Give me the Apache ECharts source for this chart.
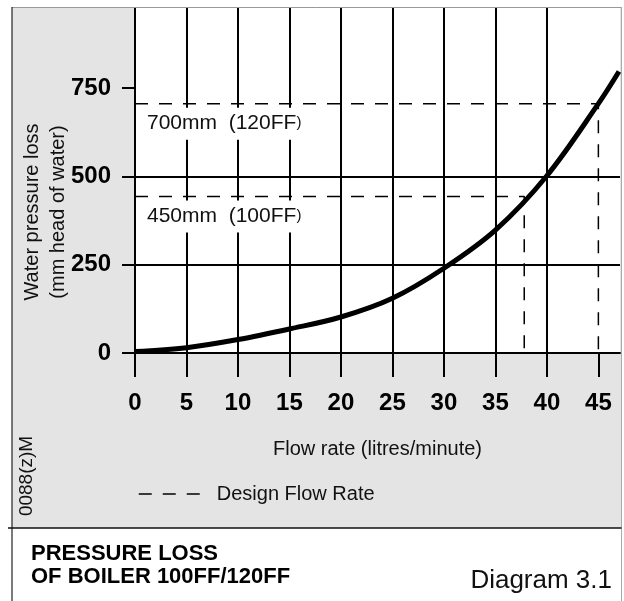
<!DOCTYPE html>
<html><head><meta charset="utf-8">
<script src="https://cdn.jsdelivr.net/npm/echarts@6/dist/echarts.min.js"></script>
<style>html,body{margin:0;padding:0;background:#fff}#c{width:624px;height:601px}</style>
</head><body><div id="c"></div>
<script>
// ---- data ----
const flowRate = [0, 5, 10, 15, 20, 25, 30, 35, 40, 45, 47];
const pressureLoss = [4, 15, 38, 68, 102, 155, 240, 348, 502, 706, 797];
const designFlow = [37.8, 45];
const designLoss = [443, 706];
const designText = ['450mm  (100FF', '700mm  (120FF'];
const xTicks = [0, 5, 10, 15, 20, 25, 30, 35, 40, 45];
const yTicks = [0, 250, 500, 750];
const xMax = 47.1;
const yMax = 977;

const NUM = "'Liberation Sans',Arial,sans-serif";
const TXT = "'Liberation Sans',Arial,Helvetica,sans-serif";

const chart = echarts.init(document.getElementById('c'), null, {renderer: 'canvas'});

const designSeries = designFlow.map((f, i) => ({
  type: 'line', name: 'Design Flow Rate', symbol: 'none', silent: true, z: 2,
  itemStyle: {color: '#000'},
  lineStyle: {color: '#000', width: 1.5, type: [13, 11]},
  data: [[0, designLoss[i]], [f, designLoss[i]], [f, 0]]
}));

const option = {
  animation: false,
  backgroundColor: '#fff',
  grid: {left: 135, right: 4, top: 8, bottom: 248, show: true, backgroundColor: '#fff', borderWidth: 0},
  xAxis: {
    type: 'value', min: 0, max: xMax, interval: 5,
    axisLine: {show: true, onZero: false, lineStyle: {color: '#000', width: 2}},
    axisTick: {show: true, length: 24, customValues: xTicks, lineStyle: {color: '#000', width: 2}},
    axisLabel: {customValues: xTicks, margin: 38, fontFamily: NUM, fontWeight: 'bold', fontSize: 24, color: '#000'},
    splitLine: {show: true, showMaxLine: false, lineStyle: {color: '#000', width: 2}},
    name: 'Flow rate (litres/minute)', nameLocation: 'middle', nameGap: 86,
    nameTextStyle: {fontFamily: TXT, fontSize: 20, color: '#111'}
  },
  yAxis: {
    type: 'value', min: 0, max: yMax, interval: 250,
    axisLine: {show: true, onZero: false, lineStyle: {color: '#000', width: 2}},
    axisTick: {show: true, length: 13, customValues: yTicks, lineStyle: {color: '#000', width: 2}},
    axisLabel: {customValues: yTicks, margin: 24, fontFamily: NUM, fontWeight: 'bold', fontSize: 24, color: '#000'},
    splitLine: {show: true, showMaxLine: false, lineStyle: {color: '#000', width: 2}}
  },
  legend: {
    show: true, data: ['Design Flow Rate'], selectedMode: false,
    left: 133, top: 479, orient: 'horizontal',
    itemWidth: 66, itemHeight: 14, itemGap: 10,
    itemStyle: {opacity: 0},
    lineStyle: {color: '#000', width: 1.5, type: [13, 11]},
    textStyle: {fontFamily: TXT, fontSize: 20, color: '#111', padding: [0, 0, 0, 7]}
  },
  series: [
    {
      type: 'line', name: 'Pressure loss', smooth: 0.35, symbol: 'none', silent: true, z: 3,
      itemStyle: {color: '#000'},
      lineStyle: {color: '#000', width: 5},
      data: flowRate.map((x, i) => [x, pressureLoss[i]])
    }
  ].concat(designSeries)
};
chart.setOption(option);

// annotation labels positioned from the data scale
const labelGraphics = designLoss.map((v, i) => {
  const p = chart.convertToPixel({gridIndex: 0}, [0, v]);
  return {
    type: 'text', x: p[0] + 9, y: p[1] + 20, z: 5,
    style: {
      text: designText[i] + '{s|)}', font: '21px ' + TXT, fill: '#111',
      verticalAlign: 'middle', align: 'left', backgroundColor: '#fff', padding: [5, 3, 6, 3],
      rich: {s: {fontSize: 15, fontFamily: TXT, fill: '#111'}}
    }
  };
});

chart.setOption({
  graphic: [
    {type: 'rect', z: -10, silent: true, shape: {x: 12, y: 7.5, width: 609, height: 520.5}, style: {fill: '#e4e4e4'}},
    {type: 'line', z: 6, silent: true, shape: {x1: 12, y1: 7.5, x2: 621.5, y2: 7.5}, style: {stroke: '#999', lineWidth: 1}},
    {type: 'line', z: 6, silent: true, shape: {x1: 12, y1: 7, x2: 12, y2: 601}, style: {stroke: '#222', lineWidth: 1.2}},
    {type: 'line', z: 6, silent: true, shape: {x1: 621.5, y1: 7, x2: 621.5, y2: 601}, style: {stroke: '#aaa', lineWidth: 1}},
    {type: 'line', z: 6, silent: true, shape: {x1: 8, y1: 528, x2: 621.5, y2: 528}, style: {stroke: '#111', lineWidth: 1.5}},
    {type: 'text', z: 6, silent: true, x: 45, y: 212, rotation: Math.PI / 2,
      style: {text: 'Water pressure loss\n(mm head of water)', font: '20px ' + TXT, fill: '#111', align: 'center', verticalAlign: 'middle', lineHeight: 26}},
    {type: 'text', z: 6, silent: true, x: 27, y: 476, rotation: Math.PI / 2,
      style: {text: '0088(z)M', font: '19px ' + TXT, fill: '#111', align: 'center', verticalAlign: 'middle'}},
    {type: 'text', z: 6, silent: true, x: 31, y: 565.5,
      style: {text: 'PRESSURE LOSS\nOF BOILER 100FF/120FF', font: 'bold 22px ' + TXT, fill: '#000', align: 'left', verticalAlign: 'middle', lineHeight: 23}},
    {type: 'text', z: 6, silent: true, x: 612, y: 581,
      style: {text: 'Diagram 3.1', font: '26px ' + TXT, fill: '#111', align: 'right', verticalAlign: 'middle'}}
  ].concat(labelGraphics)
});
</script>
</body></html>
